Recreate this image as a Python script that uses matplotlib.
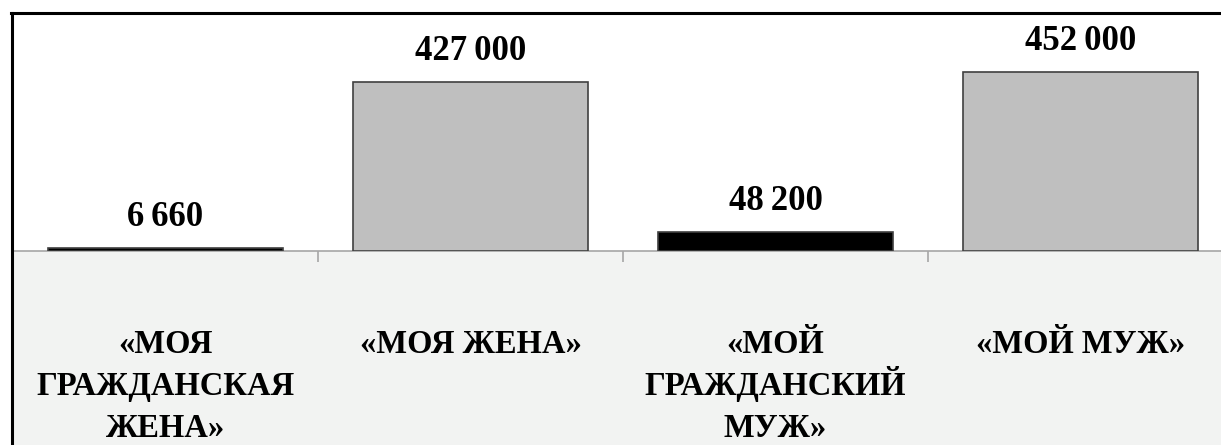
import matplotlib.pyplot as plt
from matplotlib.lines import Line2D
from matplotlib.patches import Rectangle

# данные
categories = ["«МОЯ\nГРАЖДАНСКАЯ\nЖЕНА»", "«МОЯ ЖЕНА»", "«МОЙ\nГРАЖДАНСКИЙ\nМУЖ»", "«МОЙ МУЖ»"]
values = [6660, 427000, 48200, 452000]
bar_colors = ["#000000", "#bfbfbf", "#000000", "#bfbfbf"]

W, H = 1221, 445
fig = plt.figure(figsize=(W / 100, H / 100), dpi=100)
fig.patch.set_facecolor("white")

# серая полоса под осью
fig.patches.append(Rectangle((13 / W, 0), 1, 194 / H, transform=fig.transFigure,
                             facecolor="#f2f3f2", edgecolor="none", zorder=0))
# рамка (верх и лево)
fig.lines.append(Line2D([11 / W, 1], [1 - 13 / H, 1 - 13 / H], transform=fig.transFigure,
                        color="black", linewidth=2.2, zorder=5))
fig.lines.append(Line2D([12 / W, 12 / W], [0, 1 - 13 / H], transform=fig.transFigure,
                        color="black", linewidth=2.2, zorder=5))

ax = fig.add_axes([13 / W, 194 / H, 1220 / W, 238 / H])
ax.set_facecolor("none")
ax.set_zorder(2)

x = list(range(len(values)))
bars = ax.bar(x, values, width=0.77, color=bar_colors, edgecolor="#404040", linewidth=1.2, zorder=3)
ax.set_xlim(-0.5, len(values) - 0.5)
ax.set_ylim(0, 600000)

font = "Liberation Serif"
for b, v in zip(bars, values):
    label = f"{v:,}".replace(",", "\u2009")
    ax.annotate(label, (b.get_x() + b.get_width() / 2, b.get_height()),
                xytext=(0, 10), textcoords="offset points", ha="center", va="bottom",
                fontsize=25, fontweight="bold", family=font)

for s in ["top", "right", "left"]:
    ax.spines[s].set_visible(False)
ax.spines["bottom"].set_color("#a6a6a6")
ax.spines["bottom"].set_linewidth(1.2)
ax.set_yticks([])

ax.set_xticks([0.5, 1.5, 2.5])
ax.set_xticklabels([])
ax.tick_params(axis="x", which="major", direction="out", length=8, width=1.2, color="#a6a6a6")

# подписи категорий: каждая строка отдельно, чтобы шаг строк был ровным
for i, cat in enumerate(categories):
    for k, line in enumerate(cat.split("\n")):
        ax.annotate(line, (i, 0), xytext=(0, -102 - 42 * k), textcoords="offset pixels",
                    ha="center", va="baseline", fontsize=23.5, fontweight="bold",
                    family=font, annotation_clip=False)

fig.savefig("out.png", dpi=100)
